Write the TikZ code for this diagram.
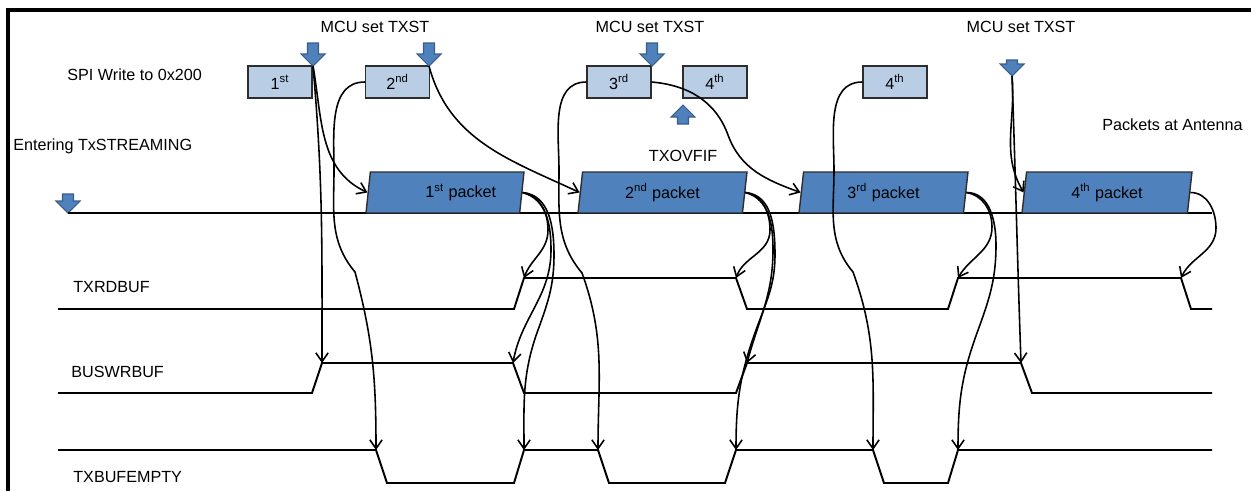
\documentclass[tikz,border=0pt]{standalone}
\usepackage{fontspec}
\setmainfont{Liberation Sans}
\usepackage{tikz}
\usetikzlibrary{positioning, arrows.meta, shapes.geometric, calc}
\definecolor{Cb}{RGB}{185,205,229}
\definecolor{Cp}{RGB}{79,129,189}
\definecolor{Ca}{RGB}{56,93,138}
\definecolor{Cbdr}{RGB}{45,45,45}
\newcommand{\dfont}{\fontsize{9.2}{11}\selectfont}
\tikzset{
  Bx/.style={draw=Cbdr, fill=Cb, line width=0.8pt,
    minimum width=1.28cm, minimum height=0.64cm,
    inner sep=0pt, font=\dfont},
  Pk/.style={trapezium, trapezium left angle=76, trapezium right angle=104,
    trapezium stretches body, draw=Cbdr, fill=Cp, line width=0.8pt,
    minimum height=0.82cm, inner sep=0pt, font=\dfont},
  blk/.pic={\draw[draw=Ca, fill=Cp, line width=0.6pt]
    (0,0) -- (-12,12) -- (-5.5,12) -- (-5.5,#1) -- (5.5,#1)
    -- (5.5,12) -- (12,12) -- cycle;},
  lbl/.style={font=\dfont, inner sep=0pt},
  a/.style={-{Straight Barb[length=5pt,width=7pt]}, line width=0.9pt},
  sig/.style={line width=1.1pt}
}

\begin{document}
\begin{tikzpicture}[x=0.02cm, y=0.02cm]
\useasboundingbox (0,0) rectangle (1251,-491);

% ═══════════════════════════════════════════════════════════════
%  frame (top + left only)
% ═══════════════════════════════════════════════════════════════
\draw[line width=2pt] (8,-491) -- (8,-10) -- (1251,-10);

% ═══════════════════════════════════════════════════════════════
%  labels
% ═══════════════════════════════════════════════════════════════
\node[lbl] (Lmcu1) at (375,-27) {MCU set TXST};
\node[lbl] (Lmcu2) at (650,-27) {MCU set TXST};
\node[lbl] (Lmcu3) at (1021,-27) {MCU set TXST};
\node[lbl, anchor=west] (Lspi) at (67,-75) {SPI Write to 0x200};
\node[lbl, anchor=west] (Lent) at (13,-146) {Entering TxSTREAMING};
\node[lbl, anchor=west] (Lant) at (1102,-125) {Packets at Antenna};
\node[lbl] (Lovf) at (683,-156) {TXOVFIF};
\node[lbl, anchor=west] (Lrd) at (73,-287) {TXRDBUF};
\node[lbl, anchor=west] (Lwr) at (71,-372) {BUSWRBUF};
\node[lbl, anchor=west] (Lem) at (73,-477) {TXBUFEMPTY};

% ═══════════════════════════════════════════════════════════════
%  SPI writes + TXST markers (tip points)
% ═══════════════════════════════════════════════════════════════
\node[Bx] (B1)  at (280,-82) {1\textsuperscript{st}};
\node[Bx] (B2)  at (397.5,-82) {2\textsuperscript{nd}};
\node[Bx] (B3)  at (619,-82) {3\textsuperscript{rd}};
\node[Bx] (B4a) at (715,-82) {4\textsuperscript{th}};
\node[Bx] (B4b) at (895,-82) {4\textsuperscript{th}};

\coordinate (T1) at (313,-66);
\coordinate (T2) at (429,-66);
\coordinate (T3) at (652,-66);
\coordinate (T4) at (1012,-76);
\coordinate (TU) at (683,-105);
\coordinate (TE) at (68,-213);
\pic at (T1) {blk=23};
\pic at (T2) {blk=23};
\pic at (T3) {blk=23};
\pic at (T4) {blk=16};
\pic[rotate=180] at (TU) {blk=19};
\pic at (TE) {blk=19};

% ═══════════════════════════════════════════════════════════════
%  waveforms
% ═══════════════════════════════════════════════════════════════
\coordinate (rdA) at (524,-278);
\coordinate (rdB) at (736,-278);
\coordinate (rdC) at (958,-278);
\coordinate (rdD) at (1181,-278);
\coordinate (wrA) at (322,-363);
\coordinate (wrB) at (513,-363);
\coordinate (wrC) at (747,-363);
\coordinate (wrD) at (1021,-363);
\coordinate (emA) at (376,-450);
\coordinate (emB) at (524,-450);
\coordinate (emC) at (598,-450);
\coordinate (emD) at (736,-450);
\coordinate (emE) at (873,-450);
\coordinate (emF) at (958,-450);

\draw[sig] (TE) -- (1212,-213);
\draw[sig] (58,-309) -- (514,-309) -- (rdA) -- (rdB) -- (747,-309)
  -- (948,-309) -- (rdC) -- (rdD) -- (1191,-309) -- (1212,-309);
\draw[sig] (58,-393) -- (312,-393) -- (wrA) -- (wrB) -- (524,-393)
  -- (736,-393) -- (wrC) -- (wrD) -- (1032,-393) -- (1212,-393);
\draw[sig] (58,-450) -- (emA) -- (387,-483) -- (514,-483) -- (emB)
  -- (emC) -- (609,-483) -- (725,-483) -- (emD) -- (emE) -- (884,-483)
  -- (948,-483) -- (emF) -- (1212,-450);

% ═══════════════════════════════════════════════════════════════
%  packets at antenna
% ═══════════════════════════════════════════════════════════════
\node[Pk, minimum width=3.16cm] (P1) at (445,-192.5)
  {\hspace{18pt}1\textsuperscript{st} packet};
\node[Pk, minimum width=3.38cm] (P2) at (662.5,-192.5) {2\textsuperscript{nd} packet};
\node[Pk, minimum width=3.38cm] (P3) at (883.5,-192.5) {3\textsuperscript{rd} packet};
\node[Pk, minimum width=3.40cm] (P4) at (1107,-192.5) {4\textsuperscript{th} packet};

% ═══════════════════════════════════════════════════════════════
%  connectors
% ═══════════════════════════════════════════════════════════════
\draw[a] (T1) to[out=-85,in=90] (wrA);
\draw[a] (T1) to[out=-80,in=155] (P1.west);
\draw[a] (B2.west) to[out=180,in=90] (334,-170) to[out=-90,in=130] (355,-272)
  to[out=-75,in=90] (emA);
\draw[a] (T2) to[out=-75,in=155] (P2.west);

\draw[a] (P1.east) to[out=-10,in=90] (548,-230) to[out=-90,in=70] (rdA);
\draw[a] (P1.east) to[out=-15,in=90] (551,-250) to[out=-90,in=80] (wrB);
\draw[a] (P1.east) to[out=-5,in=90] (554,-255) to[out=-90,in=70] (538,-330)
  to[out=-110,in=90] (emB);

\draw[a] (B3.west) to[out=180,in=90] (559,-170) to[out=-90,in=130] (582,-273)
  to[out=-70,in=90] (emC);
\draw[a] (B3.east) to[out=-5,in=110] (728,-135) to[out=-70,in=160] (P3.west);

\draw[a] (P2.east) to[out=-10,in=90] (770,-230) to[out=-90,in=70] (rdB);
\draw[a] (P2.east) to[out=-15,in=90] (773,-250) to[out=-90,in=75] (wrC);
\draw[a] (P2.east) to[out=-5,in=90] (775,-255) to[out=-90,in=70] (756,-330)
  to[out=-110,in=90] (emD);

\draw[a] (B4b.west) to[out=180,in=90] (834,-170) to[out=-90,in=130] (853,-272)
  to[out=-70,in=90] (emE);

\draw[a] (P3.east) to[out=-10,in=90] (992,-227) to[out=-90,in=60] (rdC);
\draw[a] (P3.east) to[out=0,in=90] (996,-245) to[out=-90,in=70] (977,-333)
  to[out=-110,in=90] (emF);

\draw[a] (T4) to[out=-88,in=92] (wrD);
\draw[a] (T4) to[out=-85,in=120] (P4.west);
\draw[a] (P4.east) to[out=0,in=90] (1216,-228) to[out=-90,in=65] (rdD);

\end{tikzpicture}
\end{document}
